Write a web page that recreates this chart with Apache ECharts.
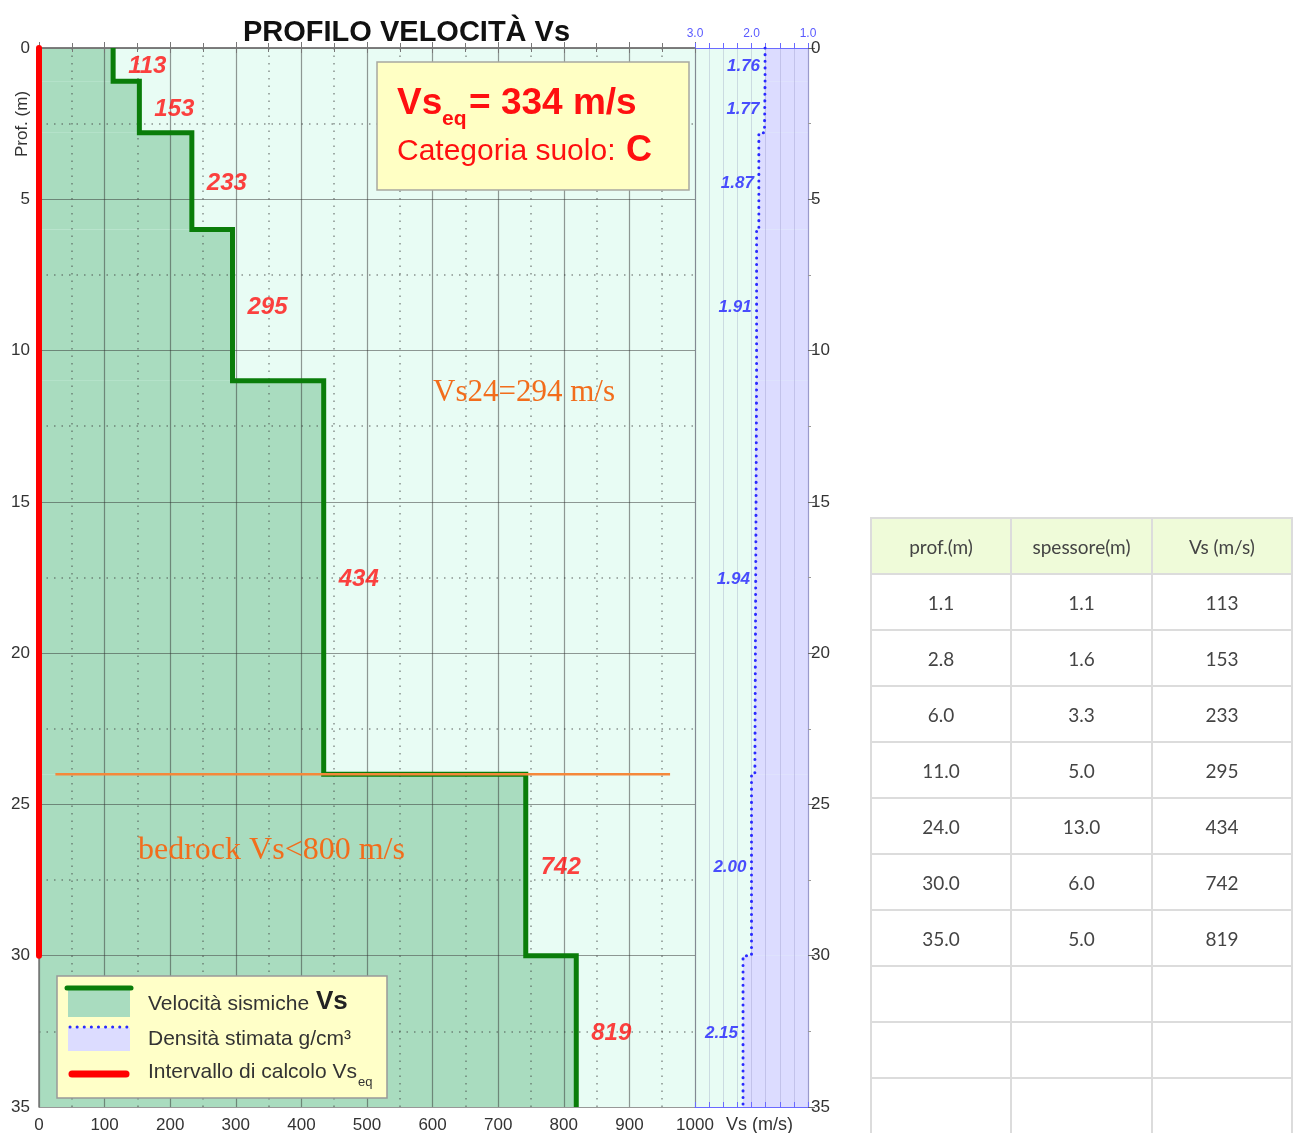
<!DOCTYPE html>
<html>
<head>
<meta charset="utf-8">
<title>Profilo velocità Vs</title>
<script src="https://cdn.jsdelivr.net/npm/echarts@6/dist/echarts.min.js"></script>
<style>
  html, body { margin: 0; padding: 0; background: #fff; }
  #wrap { position: relative; width: 1293px; height: 1133px; overflow: hidden; }
  #chart { position: absolute; left: 0; top: 0; width: 1293px; height: 1133px; }
  #tbl { position: absolute; left: 870px; top: 517px; border-collapse: collapse;
         font-family: Lato, 'Open Sans', sans-serif; font-size: 19px; color: #444; }
  #tbl td, #tbl th { width: 139px; height: 54px; border: 2px solid #dcdcdc;
                     text-align: center; font-weight: normal; padding: 0; }
  #tbl th { background: #effbd9; }
</style>
</head>
<body>
<div id="wrap">
  <div id="chart"></div>
  <table id="tbl"></table>
</div>
<script>
const layerBottom  = [1.1, 2.8, 6.0, 11.0, 24.0, 30.0, 35.0];   // prof. (m)
const layerThick   = [1.1, 1.6, 3.3, 5.0, 13.0, 6.0, 5.0];      // spessore (m)
const layerVs      = [113, 153, 233, 295, 434, 742, 819];       // Vs (m/s)
const layerDensity = [1.76, 1.77, 1.87, 1.91, 1.94, 2.00, 2.15]; // g/cm3
const tableHeader  = ['prof.(m)', 'spessore(m)', 'Vs (m/s)'];
const emptyRows    = 3;

const vsEq = 334;
const vs24 = 294;
const soilClass = 'C';
const calcDepth = 30;          // intervallo di calcolo Vs_eq
const bedrockDepth = 24;
const bedrockLineVs = [25, 962];

// --- strati ---
const layerTop = [0].concat(layerBottom.slice(0, -1));
const vsStep = [];
const rhoStep = [];
layerVs.forEach((v, i) => {
    vsStep.push([v, layerTop[i]], [v, layerBottom[i]]);
    rhoStep.push([layerDensity[i], layerTop[i]], [layerDensity[i], layerBottom[i]]);
});
const vsFill = layerVs.map((v, i) => [v, layerTop[i], layerBottom[i]]);
const rhoFill = layerDensity.map((d, i) => [d, layerTop[i], layerBottom[i]]);
const vsLabels = layerVs.map((v, i) => [v, (layerTop[i] + layerBottom[i]) / 2]);
const rhoLabels = layerDensity.map((d, i) => [d, (layerTop[i] + layerBottom[i]) / 2]);

// --- tabella ---
(function () {
    let html = '<tr>' + tableHeader.map(h => '<th>' + h + '</th>').join('') + '</tr>';
    layerBottom.forEach((b, i) => {
        html += '<tr><td>' + b.toFixed(1) + '</td><td>' + layerThick[i].toFixed(1) +
            '</td><td>' + layerVs[i] + '</td></tr>';
    });
    for (let k = 0; k < emptyRows; k++) html += '<tr><td></td><td></td><td></td></tr>';
    document.getElementById('tbl').innerHTML = html;
})();

const FONT = '"Liberation Sans", Arial, sans-serif';
const SERIF = '"Liberation Serif", "Times New Roman", serif';
const GREEN_FILL = '#a9dcbf';
const LAVENDER = '#dcdcff';
const MINT = '#e8fcf4';
const gridGray = 'rgba(50,50,50,0.5)';

const myChart = echarts.init(document.getElementById('chart'));

function bgItem(params, api) {
    const c = params.coordSys;
    return { type: 'rect', shape: { x: c.x, y: c.y, width: c.width, height: c.height }, style: { fill: MINT } };
}

let option = {
    animation: false,
    textStyle: { fontFamily: FONT },
    title: {
        text: 'PROFILO VELOCITÀ Vs',
        left: 238, top: 13,
        textStyle: { fontFamily: FONT, fontSize: 29, fontWeight: 'bold', color: '#111' }
    },
    grid: [
        { left: 39, top: 48, width: 656, height: 1059, outerBoundsMode: 'none' },
        { left: 695, top: 48, width: 113, height: 1059, outerBoundsMode: 'none' }
    ],
    xAxis: [{
        // Vs principale (in basso)
        type: 'value', gridIndex: 0, position: 'bottom', min: 0, max: 1000, interval: 100,
        axisLine: { lineStyle: { color: '#777', width: 1.5 } },
        axisTick: { inside: true, length: 6, lineStyle: { color: '#777' } },
        minorTick: { show: true, splitNumber: 2, length: 5, lineStyle: { color: '#777' } },
        axisLabel: { fontSize: 17, color: '#333', margin: 10, formatter: v => String(v) },
        splitLine: { show: true, lineStyle: { color: gridGray, width: 1.2 } },
        minorSplitLine: { show: true, lineStyle: { color: 'rgba(60,60,60,0.55)', width: 1.5, type: [1.5, 6] } }
    }, {
        // bordo superiore
        type: 'value', gridIndex: 0, position: 'top', min: 0, max: 1000, interval: 100,
        axisLine: { lineStyle: { color: '#777', width: 1.5 } },
        axisTick: { inside: true, length: 5, lineStyle: { color: '#777' } },
        minorTick: { show: true, splitNumber: 2, length: 4, lineStyle: { color: '#777' } },
        axisLabel: { show: false }, splitLine: { show: false }
    }, {
        // densità (in alto)
        type: 'value', gridIndex: 1, position: 'top', min: 1, max: 3, interval: 0.25, inverse: true,
        axisLine: { lineStyle: { color: '#6a6aff', width: 1.2 } },
        axisTick: { length: 5, lineStyle: { color: '#6a6aff' } },
        axisLabel: {
            fontSize: 12, color: '#5a5aff', margin: 8,
            formatter: v => Math.abs(v - Math.round(v)) < 1e-9 ? v.toFixed(1) : ''
        },
        splitLine: { show: true, lineStyle: { color: 'rgba(90,90,150,0.2)', width: 1 } }
    }, {
        // bordo inferiore densità
        type: 'value', gridIndex: 1, position: 'bottom', min: 1, max: 3, interval: 0.25, inverse: true,
        axisLine: { lineStyle: { color: '#6a6aff', width: 1.2 } },
        axisTick: { inside: true, length: 5, lineStyle: { color: '#6a6aff' } },
        axisLabel: { show: false }, splitLine: { show: false }
    }],
    yAxis: [{
        type: 'value', gridIndex: 0, position: 'left', min: 0, max: 35, interval: 5, inverse: true,
        axisLine: { lineStyle: { color: '#777', width: 1.5 } },
        axisTick: { show: false },
        minorTick: { show: false, splitNumber: 2 },
        axisLabel: { fontSize: 17, color: '#333', margin: 9 },
        splitLine: { show: true, lineStyle: { color: gridGray, width: 1.2 } },
        minorSplitLine: { show: true, lineStyle: { color: 'rgba(60,60,60,0.55)', width: 1.5, type: [1.5, 6] } }
    }, {
        type: 'value', gridIndex: 1, position: 'right', min: 0, max: 35, interval: 5, inverse: true,
        axisLine: { lineStyle: { color: '#9a9acc', width: 1.2 } },
        axisTick: { length: 7, lineStyle: { color: '#666' } },
        minorTick: { show: true, splitNumber: 2, length: 3, lineStyle: { color: '#999' } },
        axisLabel: { fontSize: 17, color: '#333', margin: 3 },
        splitLine: { show: false }
    }],
    series: [{
        type: 'custom', name: 'bg0', xAxisIndex: 0, yAxisIndex: 0, z: -3, silent: true,
        data: [[0, 0]], renderItem: bgItem
    }, {
        type: 'custom', name: 'bg1', xAxisIndex: 2, yAxisIndex: 1, z: -3, silent: true,
        data: [[2, 0]], renderItem: bgItem
    }, {
        type: 'custom', name: 'Vs fill', xAxisIndex: 0, yAxisIndex: 0, z: -2, silent: true,
        data: vsFill,
        encode: { x: 0, y: [1, 2] },
        renderItem: function (params, api) {
            const p0 = api.coord([0, api.value(1)]);
            const p1 = api.coord([api.value(0), api.value(2)]);
            return { type: 'rect', shape: { x: p0[0], y: p0[1], width: p1[0] - p0[0], height: p1[1] - p0[1] },
                     style: { fill: GREEN_FILL } };
        }
    }, {
        type: 'custom', name: 'rho fill', xAxisIndex: 2, yAxisIndex: 1, z: -2, silent: true,
        data: rhoFill,
        encode: { x: 0, y: [1, 2] },
        renderItem: function (params, api) {
            const p0 = api.coord([api.value(0), api.value(1)]);
            const p1 = api.coord([1, api.value(2)]);
            return { type: 'rect',
                     shape: { x: Math.min(p0[0], p1[0]), y: p0[1], width: Math.abs(p1[0] - p0[0]), height: p1[1] - p0[1] },
                     style: { fill: LAVENDER } };
        }
    }, {
        type: 'line', name: 'Velocità sismiche Vs', xAxisIndex: 0, yAxisIndex: 0, z: 4,
        data: vsStep, symbol: 'none',
        lineStyle: { color: '#0a7d0a', width: 5, cap: 'butt', join: 'miter' }
    }, {
        type: 'line', name: 'Densità', xAxisIndex: 2, yAxisIndex: 1, z: 4,
        data: rhoStep, symbol: 'none',
        lineStyle: { color: '#2a2aff', width: 3, type: [0.1, 6.5], cap: 'round' }
    }, {
        type: 'line', name: 'bedrock', xAxisIndex: 0, yAxisIndex: 0, z: 5,
        data: bedrockLineVs.map(v => [v, bedrockDepth]), symbol: 'none',
        lineStyle: { color: '#f5883a', width: 2.5 }
    }, {
        type: 'line', name: 'Intervallo di calcolo', xAxisIndex: 0, yAxisIndex: 0, z: 6,
        data: [[0, 0], [0, calcDepth]], symbol: 'none', clip: false,
        lineStyle: { color: '#ff0000', width: 6, cap: 'round' }
    }, {
        type: 'scatter', name: 'Vs labels', xAxisIndex: 0, yAxisIndex: 0, z: 7, silent: true,
        data: vsLabels, symbolSize: 0,
        label: {
            show: true, position: 'right', distance: 15, offset: [0, 2],
            formatter: p => p.value[0],
            fontFamily: FONT, fontSize: 24, fontWeight: 'bold', fontStyle: 'italic', color: '#ff1010'
        }
    }, {
        type: 'scatter', name: 'rho labels', xAxisIndex: 2, yAxisIndex: 1, z: 7, silent: true,
        data: rhoLabels, symbolSize: 0,
        label: {
            show: true, position: 'left', distance: 5, offset: [0, 2],
            formatter: p => p.value[0].toFixed(2),
            fontFamily: FONT, fontSize: 17, fontWeight: 'bold', fontStyle: 'italic', color: '#2020ff'
        }
    }],
    graphic: [
        // etichette assi
        { type: 'text', x: 22, y: 124, rotation: Math.PI / 2,
          style: { text: 'Prof. (m)', fontFamily: FONT, fontSize: 17, fill: '#333', align: 'center', verticalAlign: 'middle' } },
        { type: 'text', x: 726, y: 1125,
          style: { text: 'Vs (m/s)', fontFamily: FONT, fontSize: 18, fill: '#333', verticalAlign: 'middle' } },
        // riquadro Vs_eq
        { type: 'rect', z: 10, shape: { x: 377, y: 62, width: 312, height: 128 },
          style: { fill: '#ffffc4', stroke: '#a8a8a0', lineWidth: 1.5 } },
        { type: 'text', z: 11, x: 397, y: 104,
          style: { text: 'Vs', fontFamily: FONT, fontSize: 37, fontWeight: 'bold', fill: '#ff1010', verticalAlign: 'middle' } },
        { type: 'text', z: 11, x: 442, y: 119,
          style: { text: 'eq', fontFamily: FONT, fontSize: 21, fontWeight: 'bold', fill: '#ff1010', verticalAlign: 'middle' } },
        { type: 'text', z: 11, x: 469, y: 104,
          style: { text: '= ' + vsEq + ' m/s', fontFamily: FONT, fontSize: 37, fontWeight: 'bold', fill: '#ff1010', verticalAlign: 'middle' } },
        { type: 'text', z: 11, x: 397, y: 152,
          style: { text: 'Categoria suolo: ', fontFamily: FONT, fontSize: 30, fill: '#ff1010', verticalAlign: 'middle' } },
        { type: 'text', z: 11, x: 626, y: 151,
          style: { text: soilClass, fontFamily: FONT, fontSize: 36, fontWeight: 'bold', fill: '#ff1010', verticalAlign: 'middle' } },
        // annotazioni arancioni
        { type: 'text', z: 11, x: 433, y: 393,
          style: { text: 'Vs24=' + vs24 + ' m/s', fontFamily: SERIF, fontSize: 31, fill: '#f26d1c', verticalAlign: 'middle' } },
        { type: 'text', z: 11, x: 138, y: 851,
          style: { text: 'bedrock Vs<800 m/s', fontFamily: SERIF, fontSize: 32, fill: '#f26d1c', verticalAlign: 'middle' } },
        // legenda
        { type: 'rect', z: 10, shape: { x: 57, y: 976, width: 330, height: 122 },
          style: { fill: '#ffffc8', stroke: '#999', lineWidth: 1.5 } },
        { type: 'rect', z: 11, shape: { x: 68, y: 990, width: 62, height: 27 }, style: { fill: GREEN_FILL } },
        { type: 'line', z: 12, shape: { x1: 67, y1: 988, x2: 131, y2: 988 },
          style: { stroke: '#0a7d0a', lineWidth: 5, lineCap: 'round' } },
        { type: 'text', z: 11, x: 148, y: 1004,
          style: { text: 'Velocità sismiche', fontFamily: FONT, fontSize: 21, fill: '#333', verticalAlign: 'middle' } },
        { type: 'text', z: 11, x: 316, y: 1002,
          style: { text: 'Vs', fontFamily: FONT, fontSize: 26, fontWeight: 'bold', fill: '#222', verticalAlign: 'middle' } },
        { type: 'rect', z: 11, shape: { x: 68, y: 1028, width: 62, height: 23 }, style: { fill: LAVENDER } },
        { type: 'line', z: 12, shape: { x1: 70, y1: 1027, x2: 128, y2: 1027 },
          style: { stroke: '#2a2aff', lineWidth: 3, lineDash: [0.1, 7], lineCap: 'round' } },
        { type: 'text', z: 11, x: 148, y: 1039,
          style: { text: 'Densità stimata g/cm³', fontFamily: FONT, fontSize: 21, fill: '#333', verticalAlign: 'middle' } },
        { type: 'line', z: 12, shape: { x1: 72, y1: 1074, x2: 126, y2: 1074 },
          style: { stroke: '#ff0000', lineWidth: 7, lineCap: 'round' } },
        { type: 'text', z: 11, x: 148, y: 1072,
          style: { text: 'Intervallo di calcolo Vs', fontFamily: FONT, fontSize: 21, fill: '#333', verticalAlign: 'middle' } },
        { type: 'text', z: 11, x: 358, y: 1082,
          style: { text: 'eq', fontFamily: FONT, fontSize: 13, fill: '#333', verticalAlign: 'middle' } }
    ]
};

myChart.setOption(option);
window.addEventListener('resize', () => {
    if (myChart) myChart.resize();
});
</script>
</body>
</html>
